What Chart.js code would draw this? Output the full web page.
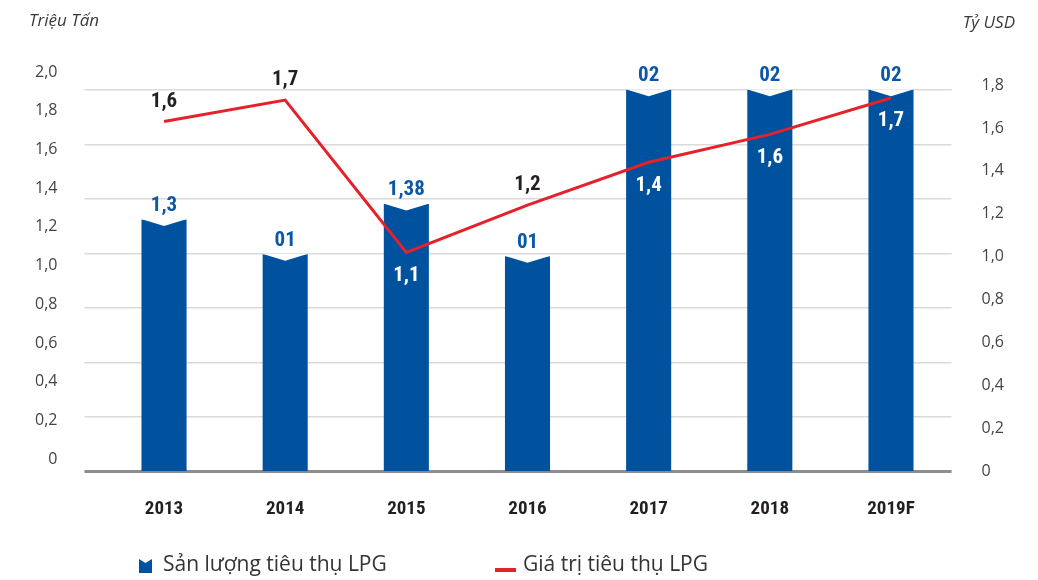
<!DOCTYPE html>
<html>
<head>
<meta charset="utf-8">
<script src="https://cdn.jsdelivr.net/npm/chart.js@4.4.1/dist/chart.umd.min.js"></script>
<style>
  html, body { margin: 0; padding: 0; background: #fff; }
  #wrap { width: 1038px; height: 580px; position: relative; }
</style>
</head>
<body>
<div id="wrap"><canvas id="lpgChart"></canvas></div>
<script>
// data
const years = ['2013', '2014', '2015', '2016', '2017', '2018', '2019F'];
const volume = [1.30, 1.12, 1.38, 1.11, 1.97, 1.97, 1.97];        // Triệu Tấn
const volumeLabels = ['1,3', '01', '1,38', '01', '02', '02', '02'];
const value = [1.63, 1.73, 1.02, 1.24, 1.44, 1.57, 1.74];         // Tỷ USD
const valueLabels = ['1,6', '1,7', '1,1', '1,2', '1,4', '1,6', '1,7'];
const leftTitle = 'Triệu Tấn';
const rightTitle = 'Tỷ USD';

const blue = '#00519e';
const labelBlue = '#0b58a6';
const red = '#e6212b';
const narrow = '"Roboto Condensed", "DejaVu Sans Condensed", sans-serif';
const sans = '"Open Sans", "Noto Sans", sans-serif';

function fmt(v) {
    if (Math.abs(v) < 1e-9) return '0';
    return v.toFixed(1).replace('.', ',');
}

// white V notch on top of each bar
const notchPlugin = {
    id: 'notch',
    afterDatasetDraw(chart, args) {
        if (args.index !== 0) return;
        const ctx = chart.ctx;
        ctx.save();
        ctx.fillStyle = '#fff';
        args.meta.data.forEach(function (bar) {
            const p = bar.getProps(['x', 'y', 'width'], true);
            ctx.beginPath();
            ctx.moveTo(p.x - p.width / 2 - 0.5, p.y - 0.5);
            ctx.lineTo(p.x, p.y + 6.5);
            ctx.lineTo(p.x + p.width / 2 + 0.5, p.y - 0.5);
            ctx.closePath();
            ctx.fill();
        });
        ctx.restore();
    }
};

// value labels, axis titles and legend
const textPlugin = {
    id: 'texts',
    afterDatasetsDraw(chart) {
        const ctx = chart.ctx;
        const bars = chart.getDatasetMeta(0).data;
        const pts = chart.getDatasetMeta(1).data;
        ctx.save();
        ctx.textAlign = 'center';
        ctx.textBaseline = 'middle';
        ctx.font = 'bold 21px ' + narrow;
        bars.forEach(function (bar, i) {
            ctx.fillStyle = labelBlue;
            ctx.fillText(volumeLabels[i], bar.x, bar.y - 14);
        });
        pts.forEach(function (pt, i) {
            const inside = pt.y > bars[i].y + 5;
            ctx.fillStyle = inside ? '#fff' : '#231f20';
            ctx.fillText(valueLabels[i], pt.x, inside ? pt.y + 23 : pt.y - 20);
        });
        ctx.restore();
    },
    afterDraw(chart) {
        const ctx = chart.ctx;
        ctx.save();
        ctx.fillStyle = '#3a3a3a';
        ctx.textBaseline = 'middle';
        ctx.font = 'italic 17px ' + sans;
        ctx.textAlign = 'left';
        ctx.fillText(leftTitle, 29, 21);
        ctx.textAlign = 'right';
        ctx.fillText(rightTitle, 1015, 23);

        // legend
        const ds = chart.data.datasets;
        ctx.font = '21px ' + sans;
        ctx.textAlign = 'left';
        ctx.fillStyle = ds[0].backgroundColor;
        ctx.beginPath();
        ctx.moveTo(139, 559);
        ctx.lineTo(145.5, 563);
        ctx.lineTo(152, 559);
        ctx.lineTo(152, 573);
        ctx.lineTo(139, 573);
        ctx.closePath();
        ctx.fill();
        ctx.fillStyle = '#333';
        ctx.fillText(ds[0].label, 163, 565);

        ctx.fillStyle = ds[1].borderColor;
        ctx.fillRect(495, 568, 21, 4);
        ctx.fillStyle = '#333';
        ctx.fillText(ds[1].label, 523, 565);
        ctx.restore();
    }
};

new Chart(document.getElementById('lpgChart'), {
    data: {
        labels: years,
        datasets: [
            {
                type: 'bar',
                label: 'Sản lượng tiêu thụ LPG',
                data: volume,
                yAxisID: 'y',
                backgroundColor: blue,
                borderWidth: 0,
                barPercentage: 0.372,
                categoryPercentage: 1,
                order: 1
            },
            {
                type: 'line',
                label: 'Giá trị tiêu thụ LPG',
                data: value,
                yAxisID: 'y1',
                borderColor: red,
                backgroundColor: red,
                borderWidth: 3,
                pointRadius: 0,
                tension: 0,
                order: 0
            }
        ]
    },
    options: {
        responsive: true,
        maintainAspectRatio: false,
        animation: false,
        layout: { padding: { top: 84, left: 8, right: 4, bottom: 32 } },
        plugins: {
            legend: { display: false },
            tooltip: { enabled: false }
        },
        scales: {
            x: {
                offset: true,
                grid: { display: false, drawTicks: false },
                border: { display: false },
                ticks: {
                    padding: 27,
                    color: '#231f20',
                    font: { family: narrow, size: 19, weight: 'bold' }
                }
            },
            y: {
                position: 'left',
                weight: 1,
                min: 0,
                max: 2.0,
                grid: { display: false, drawTicks: false },
                border: { display: false },
                ticks: {
                    stepSize: 0.2,
                    includeBounds: false,
                    padding: 27,
                    labelOffset: -12,
                    color: '#444',
                    font: { family: sans, size: 16 },
                    callback: fmt
                }
            },
            // only draws the horizontal grid lines and the base line
            grid: {
                position: 'left',
                weight: 0,
                min: 0,
                max: 7.11,
                border: { display: false },
                grid: {
                    color: function (c) { return c.tick && c.tick.value === 0 ? '#8d8d8d' : '#dadada'; },
                    lineWidth: function (c) { return c.tick && c.tick.value === 0 ? 3 : 1.5; },
                    drawTicks: true,
                    tickLength: 19
                },
                ticks: { display: false, stepSize: 1, includeBounds: false }
            },
            y1: {
                position: 'right',
                min: 0,
                max: 1.805,
                grid: { display: false, drawTicks: false },
                border: { display: false },
                ticks: {
                    stepSize: 0.2,
                    includeBounds: false,
                    padding: 30,
                    color: '#444',
                    font: { family: sans, size: 16 },
                    callback: fmt
                }
            }
        }
    },
    plugins: [notchPlugin, textPlugin]
});
</script>
</body>
</html>
